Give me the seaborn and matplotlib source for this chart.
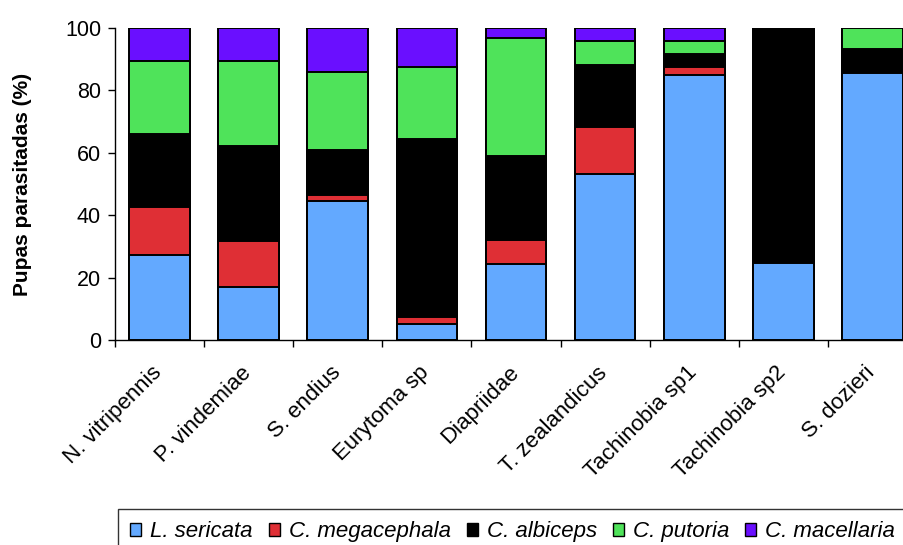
import matplotlib
matplotlib.use("Agg")
import matplotlib.pyplot as plt
import matplotlib.transforms as mtransforms
from matplotlib.patches import Patch
import numpy as np
import pandas as pd
import seaborn as sns

groups = ["N. vitripennis", "P. vindemiae", "S. endius", "Eurytoma sp", "Diapriidae",
          "T. zealandicus", "Tachinobia sp1", "Tachinobia sp2", "S. dozieri"]
species = ["L. sericata", "C. megacephala", "C. albiceps", "C. putoria", "C. macellaria"]

l_sericata = [27.2, 17.0, 44.6, 5.1, 24.4, 53.2, 85.0, 24.7, 85.6]
c_megacephala = [15.4, 14.7, 1.9, 2.3, 7.6, 15.1, 2.5, 0.0, 0.0]
c_albiceps = [23.4, 30.5, 14.5, 57.0, 27.0, 19.7, 4.2, 75.3, 7.7]
c_putoria = [23.4, 27.2, 24.9, 23.1, 37.8, 7.8, 4.1, 0.0, 6.7]
c_macellaria = [10.6, 10.6, 14.1, 12.5, 3.2, 4.2, 4.2, 0.0, 0.0]

colors = ["#63A9FF", "#DF2F35", "#000000", "#4FE35A", "#6A0FFF"]

sns.set_style("white")
plt.rcParams["font.family"] = ["Liberation Sans", "DejaVu Sans"]
plt.rcParams["text.color"] = "black"
plt.rcParams["axes.labelcolor"] = "black"
plt.rcParams["xtick.color"] = "black"
plt.rcParams["ytick.color"] = "black"

data = np.array([l_sericata, c_megacephala, c_albiceps, c_putoria, c_macellaria])
cum = data.cumsum(axis=0)

fig = plt.figure(figsize=(9.04, 5.45), dpi=100)
ax = fig.add_axes([115 / 904, 205 / 545, 802 / 904, 312 / 545])

# draw cumulative totals from the top layer down so each layer covers the one above it
for i in range(len(species) - 1, -1, -1):
    df = pd.DataFrame({"grupo": groups, "valor": cum[i]})
    sns.barplot(data=df, x="grupo", y="valor", color=colors[i], width=0.68,
                edgecolor="black", linewidth=1.4, saturation=1, ax=ax)

ax.set_ylim(0, 100)
ax.set_xlim(-0.5, len(groups) - 0.5)
ax.set_yticks(range(0, 101, 20))
ax.tick_params(axis="y", labelsize=15.5, length=5, width=1, direction="out", left=True, pad=5)
ax.set_ylabel("Pupas parasitadas (%)", fontsize=15, fontweight="bold", labelpad=24)
ax.set_xlabel("")

ax.set_xticks(np.arange(len(groups)) - 0.5, minor=True)
ax.tick_params(axis="x", which="minor", length=5, width=1, direction="out", bottom=True)
ax.tick_params(axis="x", which="major", length=0, labelsize=16, pad=16)
ax.set_xticks(range(len(groups)))
ax.set_xticklabels(groups, rotation=45, ha="right", rotation_mode="anchor")
shift = mtransforms.ScaledTranslation(-8 / 100, 0, fig.dpi_scale_trans)
for lab in ax.get_xticklabels():
    lab.set_transform(lab.get_transform() + shift)

for s in ["top", "right"]:
    ax.spines[s].set_visible(False)
for s in ["left", "bottom"]:
    ax.spines[s].set_color("black")
    ax.spines[s].set_linewidth(1)

handles = [Patch(facecolor=c, edgecolor="black", linewidth=1) for c in colors]
leg = fig.legend(handles, species, loc="upper left", bbox_to_anchor=(118 / 904, 1 - 509 / 545),
                 ncol=5, frameon=True, fancybox=False, edgecolor="black",
                 handlelength=0.5, handleheight=0.5, handletextpad=0.4,
                 columnspacing=0.72, borderpad=0.55, borderaxespad=0,
                 prop={"size": 16, "style": "italic"})
leg.get_frame().set_linewidth(1)

fig.savefig("out.png", dpi=100)
